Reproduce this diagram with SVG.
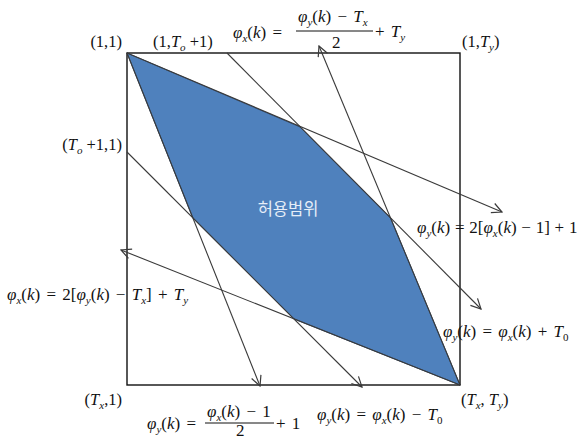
<svg xmlns="http://www.w3.org/2000/svg" width="584" height="440" viewBox="0 0 584 440">
<style>
.m{font-family:"Liberation Serif","Times New Roman",serif;font-size:17px;fill:#111;word-spacing:2px}
.lb{font-family:"Liberation Serif","Times New Roman",serif;font-size:16.5px;fill:#111}
.i{font-style:italic}
.s{font-size:11px}
.ln{stroke:#3a3a3a;stroke-width:1.1;fill:none}
</style>
<defs>
<marker id="ah" viewBox="0 0 12 12" refX="11" refY="6" markerWidth="12" markerHeight="12" markerUnits="userSpaceOnUse" orient="auto">
<path d="M1,1 L11,6 L1,11" fill="none" stroke="#3a3a3a" stroke-width="1.2"/>
</marker>
</defs>
<rect width="584" height="440" fill="#fff"/>
<g id="region">
<polygon points="127,53 300,127 390.6,218 460,385 294,319 192.8,218" fill="#4f81bd" stroke="#2f4f7a" stroke-width="1"/>
<text x="288" y="215" text-anchor="middle" font-family="'Noto Sans CJK KR','Noto Sans',sans-serif" font-size="16.5" fill="#e6eef8">허용범위</text>
</g>
<g id="frame">
<rect x="127" y="53" width="333" height="332" fill="none" stroke="#111" stroke-width="1.4"/>
</g>
<g id="connectors">
<line class="ln" x1="127" y1="53" x2="502" y2="212" marker-end="url(#ah)"/>
<line class="ln" x1="227" y1="53" x2="481" y2="309" marker-end="url(#ah)"/>
<line class="ln" x1="127" y1="152" x2="362" y2="387" marker-end="url(#ah)"/>
<line class="ln" x1="127" y1="53" x2="260" y2="386" marker-end="url(#ah)"/>
<line class="ln" x1="460" y1="385" x2="319" y2="46" marker-end="url(#ah)"/>
<line class="ln" x1="460" y1="385" x2="121" y2="250" marker-end="url(#ah)"/>
</g>
<g id="labels">
<text class="lb" x="122" y="47" text-anchor="end">(1,1)</text>
<text class="lb" x="153" y="47">(1,<tspan class="i">T</tspan><tspan class="s i" dy="4">o</tspan><tspan dy="-4"> +1)</tspan></text>
<text class="lb" x="462" y="47">(1,<tspan class="i">T</tspan><tspan class="s i" dy="4">y</tspan><tspan dy="-4">)</tspan></text>
<text class="lb" x="122" y="150" text-anchor="end">(<tspan class="i">T</tspan><tspan class="s i" dy="4">o</tspan><tspan dy="-4"> +1,1)</tspan></text>
<text class="lb" x="122" y="405" text-anchor="end">(<tspan class="i">T</tspan><tspan class="s i" dy="4">x</tspan><tspan dy="-4">,1)</tspan></text>
<text class="lb" x="461" y="405">(<tspan class="i">T</tspan><tspan class="s i" dy="4">x</tspan><tspan dy="-4">, </tspan><tspan class="i">T</tspan><tspan class="s i" dy="4">y</tspan><tspan dy="-4">)</tspan></text>
</g>
<g id="eq-top">
<text class="m" x="233" y="38"><tspan class="i">φ</tspan><tspan class="s i" dy="4">x</tspan><tspan dy="-4">(</tspan><tspan class="i">k</tspan>) =</text>
<text class="m" x="298" y="22"><tspan class="i">φ</tspan><tspan class="s i" dy="4">y</tspan><tspan dy="-4">(</tspan><tspan class="i">k</tspan>) − <tspan class="i">T</tspan><tspan class="s i" dy="4">x</tspan></text>
<line x1="296" y1="31" x2="373" y2="31" stroke="#111" stroke-width="1"/>
<text class="m" x="332" y="48">2</text>
<text class="m" x="375" y="37">+ <tspan class="i">T</tspan><tspan class="s i" dy="4">y</tspan></text>
</g>
<g id="eq-r1">
<text class="m" x="417" y="233" style="word-spacing:0.5px"><tspan class="i">φ</tspan><tspan class="s i" dy="4">y</tspan><tspan dy="-4">(</tspan><tspan class="i">k</tspan>) = 2[<tspan class="i">φ</tspan><tspan class="s i" dy="4">x</tspan><tspan dy="-4">(</tspan><tspan class="i">k</tspan>) − 1] + 1</text>
</g>
<g id="eq-l1">
<text class="m" x="7" y="300"><tspan class="i">φ</tspan><tspan class="s i" dy="4">x</tspan><tspan dy="-4">(</tspan><tspan class="i">k</tspan>) = 2[<tspan class="i">φ</tspan><tspan class="s i" dy="4">y</tspan><tspan dy="-4">(</tspan><tspan class="i">k</tspan>) − <tspan class="i">T</tspan><tspan class="s i" dy="4">x</tspan><tspan dy="-4">] + </tspan><tspan class="i">T</tspan><tspan class="s i" dy="4">y</tspan></text>
</g>
<g id="eq-r2">
<text class="m" x="443" y="337"><tspan class="i">φ</tspan><tspan class="s i" dy="4">y</tspan><tspan dy="-4">(</tspan><tspan class="i">k</tspan>) = <tspan class="i">φ</tspan><tspan class="s i" dy="4">x</tspan><tspan dy="-4">(</tspan><tspan class="i">k</tspan>) + <tspan class="i">T</tspan><tspan class="s" dy="4">0</tspan></text>
</g>
<g id="eq-b1">
<text class="m" x="147" y="429"><tspan class="i">φ</tspan><tspan class="s i" dy="4">y</tspan><tspan dy="-4">(</tspan><tspan class="i">k</tspan>) =</text>
<text class="m" x="207" y="417"><tspan class="i">φ</tspan><tspan class="s i" dy="4">x</tspan><tspan dy="-4">(</tspan><tspan class="i">k</tspan>) − 1</text>
<line x1="205" y1="423" x2="274" y2="423" stroke="#111" stroke-width="1"/>
<text class="m" x="236" y="436">2</text>
<text class="m" x="276" y="429">+ 1</text>
</g>
<g id="eq-b2">
<text class="m" x="317" y="420"><tspan class="i">φ</tspan><tspan class="s i" dy="4">y</tspan><tspan dy="-4">(</tspan><tspan class="i">k</tspan>) = <tspan class="i">φ</tspan><tspan class="s i" dy="4">x</tspan><tspan dy="-4">(</tspan><tspan class="i">k</tspan>) − <tspan class="i">T</tspan><tspan class="s" dy="4">0</tspan></text>
</g>
</svg>
